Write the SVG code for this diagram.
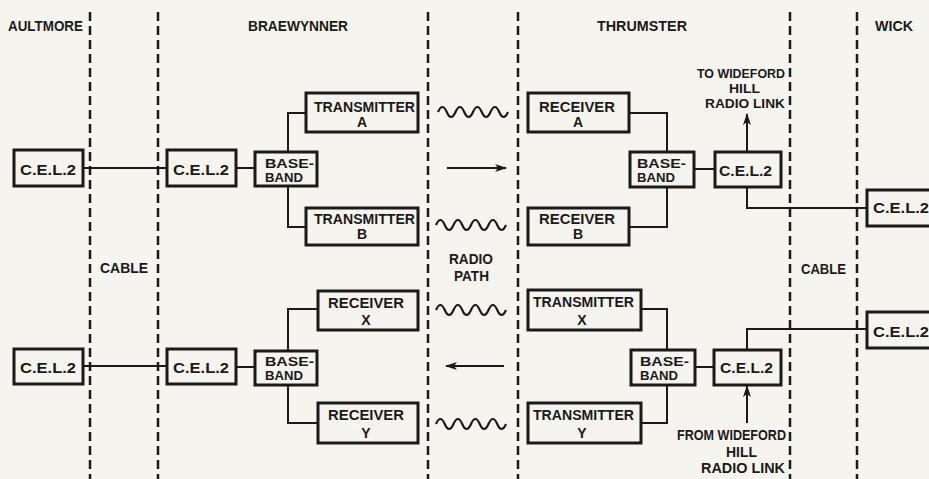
<svg xmlns="http://www.w3.org/2000/svg" width="929" height="479" viewBox="0 0 929 479">
<style>
.bg{fill:#f6f4ee}
.box{fill:none;stroke:#1a1a1a;stroke-width:3}
.ln{fill:none;stroke:#1a1a1a;stroke-width:2}
.dash{fill:none;stroke:#1a1a1a;stroke-width:2.5;stroke-dasharray:9 5}
.wave{fill:none;stroke:#1a1a1a;stroke-width:2.2}
text{font-family:"Liberation Sans",Arial,sans-serif;font-weight:bold;font-size:15.5px;fill:#1a1a1a}
.m{font-size:14px}
.s{font-size:13.2px}
.c{text-anchor:middle}
</style>
<defs>
<marker id="ah" viewBox="0 0 12 8" refX="11" refY="4" markerWidth="12" markerHeight="8" markerUnits="userSpaceOnUse" orient="auto">
<path d="M0,0 L12,4 L0,8 L3,4 z" fill="#1a1a1a"/>
</marker>
</defs>
<rect class="bg" x="0" y="0" width="929" height="479"/>

<g id="boundaries">
<line class="dash" x1="90" y1="12" x2="90" y2="479"/>
<line class="dash" x1="158" y1="12" x2="158" y2="479"/>
<line class="dash" x1="428" y1="12" x2="428" y2="479"/>
<line class="dash" x1="518" y1="12" x2="518" y2="479"/>
<line class="dash" x1="790" y1="12" x2="790" y2="479"/>
<line class="dash" x1="857" y1="12" x2="857" y2="479"/>
</g>

<g id="titles">
<text x="8" y="31" textLength="75" lengthAdjust="spacingAndGlyphs">AULTMORE</text>
<text x="248" y="31" textLength="100" lengthAdjust="spacingAndGlyphs">BRAEWYNNER</text>
<text x="597" y="31" textLength="90" lengthAdjust="spacingAndGlyphs">THRUMSTER</text>
<text x="875" y="31" textLength="38" lengthAdjust="spacingAndGlyphs">WICK</text>
</g>

<g id="labels">
<text x="100" y="273" textLength="48" lengthAdjust="spacingAndGlyphs">CABLE</text>
<text x="801" y="274" textLength="45" lengthAdjust="spacingAndGlyphs">CABLE</text>
<text class="m" x="449" y="264" textLength="44" lengthAdjust="spacingAndGlyphs">RADIO</text>
<text class="m" x="454" y="281" textLength="35" lengthAdjust="spacingAndGlyphs">PATH</text>
<text class="s" x="697" y="78" textLength="88" lengthAdjust="spacingAndGlyphs">TO WIDEFORD</text>
<text class="s" x="729" y="93" textLength="31" lengthAdjust="spacingAndGlyphs">HILL</text>
<text class="s" x="705" y="108" textLength="80" lengthAdjust="spacingAndGlyphs">RADIO LINK</text>
<text class="m" x="677" y="440" textLength="109" lengthAdjust="spacingAndGlyphs">FROM WIDEFORD</text>
<text class="m" x="726" y="457" textLength="31" lengthAdjust="spacingAndGlyphs">HILL</text>
<text class="m" x="701" y="473" textLength="84" lengthAdjust="spacingAndGlyphs">RADIO LINK</text>
</g>

<g id="connectors">
<path class="ln" d="M83,168 H167"/>
<path class="ln" d="M236,168 H255"/>
<path class="ln" d="M306,113 H288 V152 M288,186 V227 H306"/>
<path class="ln" d="M629,113 H667 V152 M667,187 V227 H629"/>
<path class="ln" d="M694,169 H715"/>
<path class="ln" d="M747,152 V114" marker-end="url(#ah)"/>
<path class="ln" d="M747,187 V208 H867"/>
<path class="ln" d="M83,366 H167"/>
<path class="ln" d="M236,367 H255"/>
<path class="ln" d="M318,309 H288 V351 M288,385 V423 H318"/>
<path class="ln" d="M641,309 H667 V350 M667,385 V423 H641"/>
<path class="ln" d="M695,367 H714"/>
<path class="ln" d="M747,350 V329 H867"/>
<path class="ln" d="M747,423 V386" marker-end="url(#ah)"/>
<path class="ln" d="M447,168 H506" marker-end="url(#ah)"/>
<path class="ln" d="M504,366 H446" marker-end="url(#ah)"/>
<path class="wave" d="M438,112 q4.4,-10 8.75,0 t8.75,0 t8.75,0 t8.75,0 t8.75,0 t8.75,0 t8.75,0 t8.75,0"/>
<path class="wave" d="M436,225 q4.4,-10 8.75,0 t8.75,0 t8.75,0 t8.75,0 t8.75,0 t8.75,0 t8.75,0 t8.75,0"/>
<path class="wave" d="M436,310 q4.4,-10 8.75,0 t8.75,0 t8.75,0 t8.75,0 t8.75,0 t8.75,0 t8.75,0 t8.75,0"/>
<path class="wave" d="M436,424 q4.4,-10 8.75,0 t8.75,0 t8.75,0 t8.75,0 t8.75,0 t8.75,0 t8.75,0 t8.75,0"/>
</g>

<g id="aultmore-cel2-upper"><rect class="box" x="14" y="150" width="69" height="36"/><text x="20" y="175" textLength="56" lengthAdjust="spacingAndGlyphs">C.E.L.2</text></g>
<g id="braewynner-cel2-upper"><rect class="box" x="167" y="150" width="69" height="36"/><text x="173" y="175" textLength="56" lengthAdjust="spacingAndGlyphs">C.E.L.2</text></g>
<g id="braewynner-baseband-upper"><rect class="box" x="255" y="152" width="62" height="34"/><text class="s" x="265" y="168" textLength="49" lengthAdjust="spacingAndGlyphs">BASE-</text><text class="s" x="265" y="182" textLength="38" lengthAdjust="spacingAndGlyphs">BAND</text></g>
<g id="transmitter-a"><rect class="box" x="306" y="93" width="112" height="39"/><text class="m" x="314" y="112" textLength="101" lengthAdjust="spacingAndGlyphs">TRANSMITTER</text><text class="m c" x="362" y="127">A</text></g>
<g id="transmitter-b"><rect class="box" x="306" y="208" width="112" height="37"/><text class="m" x="314" y="224" textLength="101" lengthAdjust="spacingAndGlyphs">TRANSMITTER</text><text class="m c" x="362" y="239">B</text></g>
<g id="receiver-a"><rect class="box" x="528" y="93" width="101" height="39"/><text class="m" x="539" y="112" textLength="76" lengthAdjust="spacingAndGlyphs">RECEIVER</text><text class="m c" x="578" y="127">A</text></g>
<g id="receiver-b"><rect class="box" x="528" y="208" width="101" height="37"/><text class="m" x="539" y="224" textLength="76" lengthAdjust="spacingAndGlyphs">RECEIVER</text><text class="m c" x="578" y="239">B</text></g>
<g id="thrumster-baseband-upper"><rect class="box" x="630" y="152" width="64" height="35"/><text class="s" x="637" y="168" textLength="49" lengthAdjust="spacingAndGlyphs">BASE-</text><text class="s" x="637" y="182" textLength="38" lengthAdjust="spacingAndGlyphs">BAND</text></g>
<g id="thrumster-cel2-upper"><rect class="box" x="715" y="152" width="66" height="35"/><text x="719" y="176" textLength="53" lengthAdjust="spacingAndGlyphs">C.E.L.2</text></g>
<g id="wick-cel2-upper"><rect class="box" x="867" y="190" width="80" height="36"/><text x="873" y="213" textLength="56" lengthAdjust="spacingAndGlyphs">C.E.L.2</text></g>

<g id="aultmore-cel2-lower"><rect class="box" x="14" y="349" width="69" height="35"/><text x="20" y="373" textLength="56" lengthAdjust="spacingAndGlyphs">C.E.L.2</text></g>
<g id="braewynner-cel2-lower"><rect class="box" x="167" y="349" width="69" height="35"/><text x="173" y="373" textLength="56" lengthAdjust="spacingAndGlyphs">C.E.L.2</text></g>
<g id="braewynner-baseband-lower"><rect class="box" x="255" y="351" width="62" height="34"/><text class="s" x="265" y="366" textLength="49" lengthAdjust="spacingAndGlyphs">BASE-</text><text class="s" x="265" y="380" textLength="38" lengthAdjust="spacingAndGlyphs">BAND</text></g>
<g id="receiver-x"><rect class="box" x="318" y="291" width="100" height="39"/><text class="m" x="328" y="308" textLength="76" lengthAdjust="spacingAndGlyphs">RECEIVER</text><text class="m c" x="366" y="325">X</text></g>
<g id="receiver-y"><rect class="box" x="318" y="403" width="100" height="40"/><text class="m" x="328" y="420" textLength="76" lengthAdjust="spacingAndGlyphs">RECEIVER</text><text class="m c" x="366" y="438">Y</text></g>
<g id="transmitter-x"><rect class="box" x="528" y="290" width="113" height="40"/><text class="m" x="533" y="307" textLength="101" lengthAdjust="spacingAndGlyphs">TRANSMITTER</text><text class="m c" x="582" y="325">X</text></g>
<g id="transmitter-y"><rect class="box" x="528" y="403" width="113" height="40"/><text class="m" x="533" y="420" textLength="101" lengthAdjust="spacingAndGlyphs">TRANSMITTER</text><text class="m c" x="582" y="438">Y</text></g>
<g id="thrumster-baseband-lower"><rect class="box" x="631" y="350" width="64" height="35"/><text class="s" x="640" y="366" textLength="49" lengthAdjust="spacingAndGlyphs">BASE-</text><text class="s" x="640" y="380" textLength="38" lengthAdjust="spacingAndGlyphs">BAND</text></g>
<g id="thrumster-cel2-lower"><rect class="box" x="714" y="350" width="67" height="35"/><text x="720" y="373" textLength="53" lengthAdjust="spacingAndGlyphs">C.E.L.2</text></g>
<g id="wick-cel2-lower"><rect class="box" x="867" y="312" width="80" height="36"/><text x="873" y="337" textLength="56" lengthAdjust="spacingAndGlyphs">C.E.L.2</text></g>
</svg>
